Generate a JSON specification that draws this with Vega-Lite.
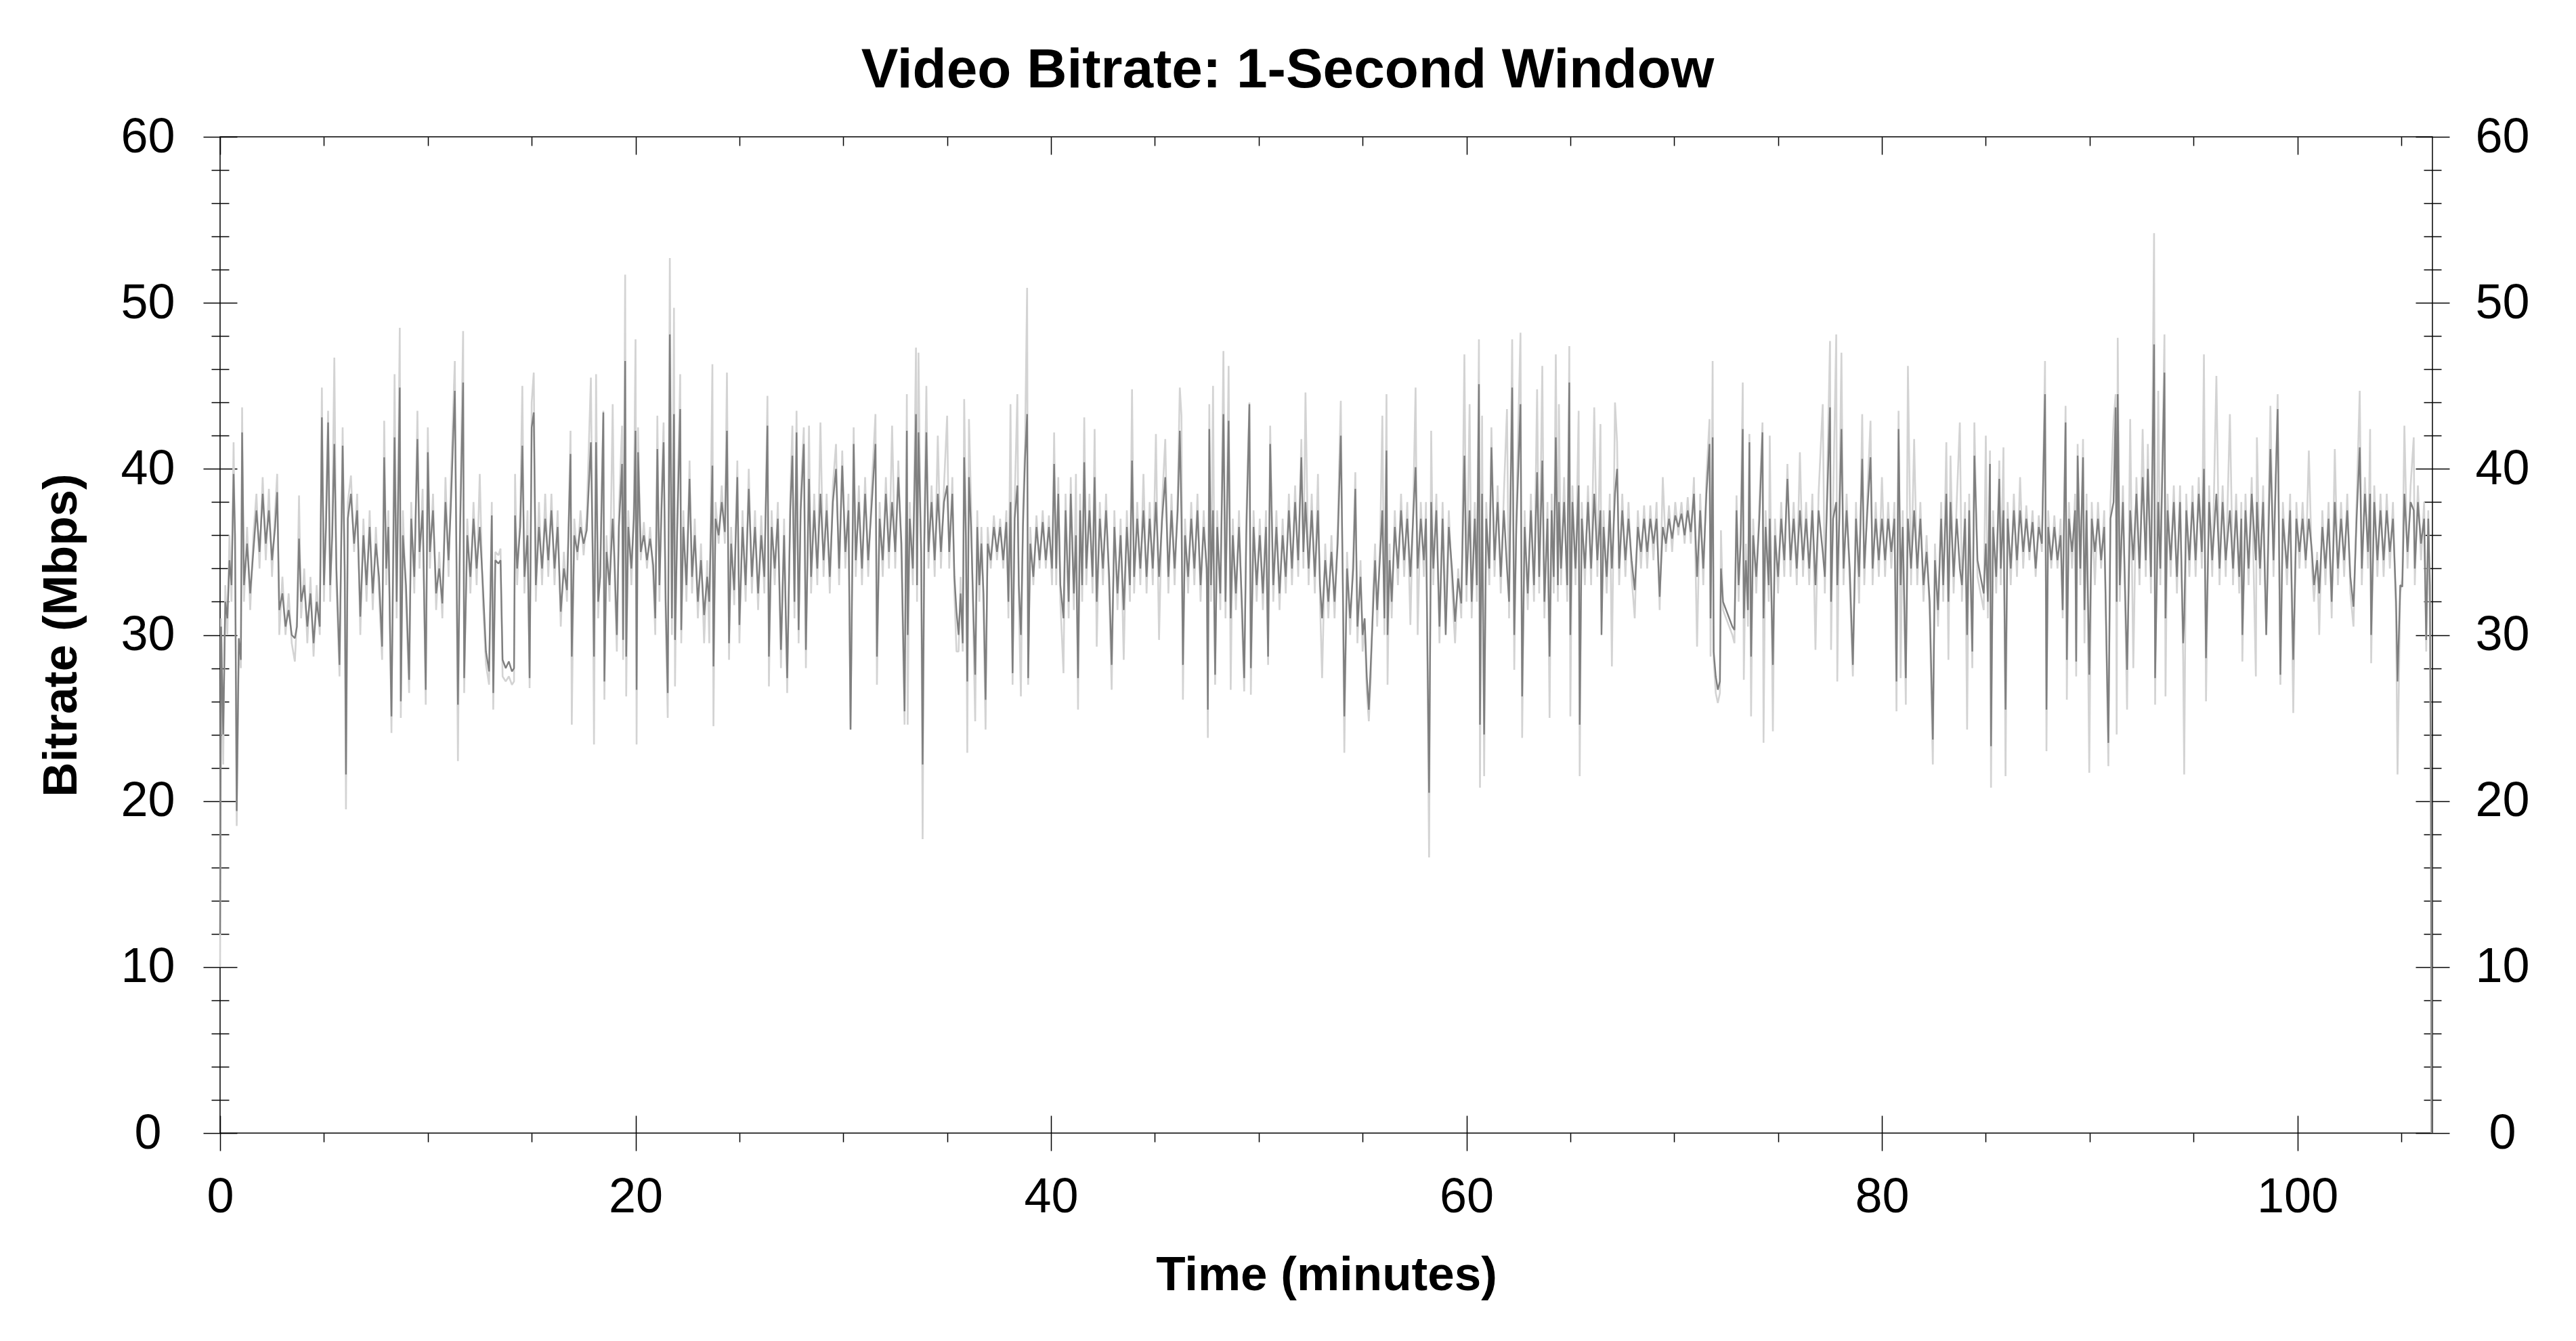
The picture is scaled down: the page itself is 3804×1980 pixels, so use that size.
{
"$schema": "https://vega.github.io/schema/vega-lite/v6.json",
"width": 3267,
"height": 1471,
"autosize": {"type": "none"},
"padding": {"left": 325, "top": 202, "right": 212, "bottom": 307},
"background": "white",
"title": {"text": "Video Bitrate: 1-Second Window", "fontSize": 82, "fontWeight": "bold", "font": "Liberation Sans", "color": "black", "anchor": "middle", "offset": 20, "dx": -57},
"config": {
  "font": "Liberation Sans",
  "view": {"stroke": "black", "strokeWidth": 1.5},
  "axis": {"domain": false, "grid": false, "tickColor": "black", "tickWidth": 1.5, "labelColor": "black", "titleColor": "black", "labelFlush": false, "labelFontSize": 72, "titleFontSize": 71, "titleFontWeight": "bold", "labelFont": "Liberation Sans", "titleFont": "Liberation Sans", "labelOverlap": false}
},
"resolve": {"axis": {"x": "independent", "y": "independent"}},
"data": {"values": [
{"t":0,"d":12,"l":10},{"t":0.05,"d":30.5,"l":31},{"t":0.15,"d":24,"l":22.2},{"t":0.25,"d":32,"l":33},{"t":0.35,"d":31,"l":30},{"t":0.45,"d":34.5,"l":36},{"t":0.55,"d":33,"l":32},{"t":0.65,"d":39.7,"l":41.6},{"t":0.72,"d":36,"l":35},{"t":0.8,"d":19.4,"l":18.5},{"t":0.9,"d":29.8,"l":29},{"t":1.0,"d":28.5,"l":28},{"t":1.06,"d":42.2,"l":43.7},{"t":1.15,"d":33,"l":32},{"t":1.3,"d":35.5,"l":36.5},{"t":1.45,"d":32.5,"l":31.5},{"t":1.6,"d":35,"l":36},{"t":1.75,"d":37.5,"l":38.5},{"t":1.9,"d":35,"l":34},{"t":2.05,"d":38.5,"l":39.5},{"t":2.2,"d":35.5,"l":34.5},{"t":2.35,"d":37.5,"l":38.8},{"t":2.5,"d":34.5,"l":33.5},{"t":2.65,"d":36.5,"l":37.5},{"t":2.75,"d":38.6,"l":39.7},{"t":2.85,"d":31.5,"l":30},{"t":3.0,"d":32.5,"l":33.5},{"t":3.15,"d":30.5,"l":30},{"t":3.3,"d":31.5,"l":32.5},{"t":3.45,"d":30,"l":29.5},{"t":3.6,"d":29.8,"l":28.4},{"t":3.7,"d":30.5,"l":31},{"t":3.8,"d":35.8,"l":38.4},{"t":3.9,"d":32,"l":31},{"t":4.05,"d":33,"l":34},{"t":4.2,"d":30.5,"l":29.5},{"t":4.35,"d":32.5,"l":33.5},{"t":4.5,"d":29.5,"l":28.7},{"t":4.65,"d":32,"l":33},{"t":4.8,"d":30.5,"l":30},{"t":4.9,"d":43.1,"l":44.9},{"t":5.0,"d":33,"l":32},{"t":5.1,"d":36.5,"l":37.5},{"t":5.2,"d":42.8,"l":43.5},{"t":5.3,"d":33,"l":32},{"t":5.4,"d":36,"l":37},{"t":5.5,"d":41.5,"l":46.7},{"t":5.6,"d":34,"l":33},{"t":5.75,"d":28.2,"l":27.5},{"t":5.9,"d":41.4,"l":42.5},{"t":6.0,"d":34,"l":33},{"t":6.06,"d":21.6,"l":19.5},{"t":6.15,"d":37,"l":38},{"t":6.3,"d":38.5,"l":39.6},{"t":6.45,"d":35.5,"l":35},{"t":6.6,"d":37.5,"l":38.5},{"t":6.75,"d":31.1,"l":30},{"t":6.9,"d":36,"l":37},{"t":7.05,"d":33,"l":32},{"t":7.2,"d":36.5,"l":37.5},{"t":7.35,"d":32.5,"l":31.5},{"t":7.5,"d":35.5,"l":36.5},{"t":7.65,"d":33.5,"l":32.5},{"t":7.8,"d":29.3,"l":28.5},{"t":7.9,"d":40.7,"l":42.9},{"t":8.0,"d":34,"l":33},{"t":8.1,"d":36.5,"l":37.5},{"t":8.25,"d":25.1,"l":24.1},{"t":8.4,"d":41.9,"l":45.7},{"t":8.5,"d":32,"l":31},{"t":8.65,"d":44.9,"l":48.5},{"t":8.7,"d":26,"l":25},{"t":8.8,"d":36,"l":37.5},{"t":8.95,"d":33,"l":32},{"t":9.1,"d":27.3,"l":26.5},{"t":9.2,"d":37,"l":38},{"t":9.35,"d":33.5,"l":32.5},{"t":9.5,"d":41.8,"l":43.5},{"t":9.6,"d":35,"l":34},{"t":9.75,"d":37.5,"l":38.8},{"t":9.9,"d":26.7,"l":25.8},{"t":10.0,"d":41,"l":42.5},{"t":10.1,"d":35,"l":34},{"t":10.25,"d":37.5,"l":38.5},{"t":10.4,"d":32.5,"l":31.5},{"t":10.55,"d":34,"l":35},{"t":10.7,"d":31.9,"l":31},{"t":10.85,"d":38,"l":39.5},{"t":11.0,"d":34.5,"l":33.5},{"t":11.1,"d":37.5,"l":39},{"t":11.3,"d":44.7,"l":46.5},{"t":11.45,"d":25.8,"l":22.4},{"t":11.55,"d":36,"l":37},{"t":11.7,"d":45.2,"l":48.3},{"t":11.75,"d":27.4,"l":26.5},{"t":11.9,"d":36,"l":37},{"t":12.05,"d":33.5,"l":32.5},{"t":12.2,"d":37,"l":38},{"t":12.35,"d":34,"l":33},{"t":12.5,"d":36.5,"l":39.7},{"t":12.65,"d":33,"l":32},{"t":12.8,"d":29,"l":28.2},{"t":12.95,"d":27.8,"l":27},{"t":13.08,"d":37.2,"l":38},{"t":13.15,"d":26.5,"l":25.5},{"t":13.25,"d":34.5,"l":35},{"t":13.4,"d":34.3,"l":34.8},{"t":13.5,"d":34.5,"l":35.2},{"t":13.6,"d":28.5,"l":27.5},{"t":13.75,"d":28,"l":27.2},{"t":13.9,"d":28.4,"l":27.5},{"t":14.05,"d":27.8,"l":27},{"t":14.15,"d":28,"l":27.2},{"t":14.2,"d":37.2,"l":39.7},{"t":14.3,"d":34,"l":33},{"t":14.45,"d":36.5,"l":37.5},{"t":14.55,"d":41.4,"l":45},{"t":14.65,"d":33.5,"l":32.5},{"t":14.8,"d":36,"l":37.5},{"t":14.9,"d":27.4,"l":26.8},{"t":15.0,"d":42.5,"l":44},{"t":15.1,"d":43.4,"l":45.8},{"t":15.2,"d":33,"l":32},{"t":15.35,"d":36.5,"l":38},{"t":15.5,"d":34,"l":33},{"t":15.65,"d":37,"l":38.5},{"t":15.8,"d":34.5,"l":33.5},{"t":15.95,"d":37.5,"l":38.5},{"t":16.1,"d":34,"l":33},{"t":16.25,"d":36.5,"l":37.5},{"t":16.4,"d":31.4,"l":30.5},{"t":16.55,"d":34,"l":35},{"t":16.7,"d":32.7,"l":32},{"t":16.87,"d":40.9,"l":42.3},{"t":16.93,"d":28.7,"l":24.6},{"t":17.05,"d":36,"l":37},{"t":17.2,"d":35,"l":34.5},{"t":17.35,"d":36.5,"l":37.5},{"t":17.5,"d":35.5,"l":34.8},{"t":17.65,"d":36.3,"l":37.2},{"t":17.85,"d":41.6,"l":45.5},{"t":17.95,"d":34,"l":33},{"t":18.0,"d":28.7,"l":23.4},{"t":18.1,"d":41.6,"l":45.7},{"t":18.2,"d":32,"l":31},{"t":18.3,"d":33.5,"l":34.5},{"t":18.45,"d":43.4,"l":43.5},{"t":18.5,"d":27.2,"l":26.1},{"t":18.6,"d":35,"l":36},{"t":18.75,"d":33,"l":32},{"t":18.9,"d":37,"l":43.9},{"t":19.0,"d":34,"l":33},{"t":19.1,"d":30,"l":29},{"t":19.2,"d":36.5,"l":37.5},{"t":19.35,"d":40.3,"l":42.6},{"t":19.4,"d":29.7,"l":28.5},{"t":19.5,"d":46.5,"l":51.7},{"t":19.55,"d":28.7,"l":26.3},{"t":19.65,"d":36.5,"l":37.5},{"t":19.8,"d":34,"l":33},{"t":19.92,"d":37,"l":38},{"t":20.0,"d":42.3,"l":47.8},{"t":20.05,"d":26.7,"l":23.4},{"t":20.12,"d":41,"l":42.5},{"t":20.25,"d":35,"l":34.5},{"t":20.4,"d":36,"l":36.8},{"t":20.55,"d":34.5,"l":34},{"t":20.7,"d":35.8,"l":36.5},{"t":20.85,"d":34.2,"l":33.5},{"t":20.95,"d":31,"l":30},{"t":21.05,"d":41.2,"l":43.2},{"t":21.15,"d":33,"l":32},{"t":21.25,"d":37.5,"l":38.5},{"t":21.35,"d":41.6,"l":42.8},{"t":21.45,"d":32,"l":31},{"t":21.55,"d":26.5,"l":25},{"t":21.65,"d":48.1,"l":52.7},{"t":21.75,"d":31,"l":30},{"t":21.85,"d":43.3,"l":49.7},{"t":21.9,"d":29.7,"l":26.9},{"t":22.0,"d":36,"l":37},{"t":22.15,"d":43.6,"l":45.7},{"t":22.2,"d":30.3,"l":29.5},{"t":22.3,"d":36.5,"l":37.5},{"t":22.45,"d":33,"l":32},{"t":22.6,"d":39.4,"l":40.5},{"t":22.72,"d":33.5,"l":32.5},{"t":22.85,"d":36,"l":37},{"t":23.0,"d":32,"l":31},{"t":23.15,"d":34.5,"l":35.5},{"t":23.3,"d":31.2,"l":29.5},{"t":23.45,"d":33.5,"l":34.5},{"t":23.55,"d":32,"l":29.5},{"t":23.7,"d":40.2,"l":46.3},{"t":23.75,"d":28.1,"l":24.5},{"t":23.85,"d":37,"l":38},{"t":24.0,"d":36,"l":35.5},{"t":24.15,"d":38,"l":39},{"t":24.3,"d":36.2,"l":35.5},{"t":24.4,"d":42.3,"l":45.8},{"t":24.5,"d":29.5,"l":28.5},{"t":24.6,"d":35.5,"l":36.5},{"t":24.75,"d":32.7,"l":31.8},{"t":24.9,"d":39.5,"l":40.5},{"t":25.0,"d":30.6,"l":29.5},{"t":25.15,"d":36.5,"l":37.5},{"t":25.3,"d":33,"l":32},{"t":25.45,"d":38.8,"l":40},{"t":25.6,"d":33.5,"l":32.5},{"t":25.75,"d":36.5,"l":37.5},{"t":25.9,"d":32.5,"l":31.5},{"t":26.05,"d":36,"l":37.2},{"t":26.2,"d":33.5,"l":32.5},{"t":26.35,"d":42.6,"l":44.4},{"t":26.42,"d":28.7,"l":26.9},{"t":26.55,"d":36.5,"l":37.5},{"t":26.7,"d":34,"l":33},{"t":26.85,"d":37,"l":38},{"t":27.0,"d":29.1,"l":28},{"t":27.15,"d":36,"l":37},{"t":27.3,"d":27.4,"l":26.5},{"t":27.45,"d":37.5,"l":38.5},{"t":27.55,"d":40.8,"l":42.6},{"t":27.65,"d":32,"l":31},{"t":27.75,"d":42.2,"l":43.5},{"t":27.85,"d":30.3,"l":29.5},{"t":27.95,"d":37.5,"l":38.5},{"t":28.1,"d":41.5,"l":42.5},{"t":28.2,"d":29.1,"l":28},{"t":28.35,"d":39.4,"l":42.6},{"t":28.45,"d":33.5,"l":32.5},{"t":28.6,"d":37.5,"l":38.5},{"t":28.75,"d":34,"l":33},{"t":28.9,"d":38.5,"l":42.8},{"t":29.05,"d":34.5,"l":33.5},{"t":29.2,"d":37.5,"l":38.5},{"t":29.35,"d":33.5,"l":32.5},{"t":29.5,"d":38,"l":39},{"t":29.65,"d":40,"l":41.5},{"t":29.8,"d":34,"l":33},{"t":29.95,"d":40.2,"l":41.1},{"t":30.1,"d":35,"l":34},{"t":30.25,"d":37.5,"l":38.5},{"t":30.35,"d":24.3,"l":24.3},{"t":30.5,"d":41.5,"l":42.5},{"t":30.6,"d":34.5,"l":33.5},{"t":30.75,"d":38,"l":39},{"t":30.9,"d":34,"l":33},{"t":31.05,"d":38.5,"l":39.5},{"t":31.2,"d":34.5,"l":33.5},{"t":31.35,"d":37.5,"l":38.5},{"t":31.55,"d":41.5,"l":43.3},{"t":31.62,"d":28.7,"l":27},{"t":31.75,"d":37,"l":38},{"t":31.9,"d":34.5,"l":33.5},{"t":32.05,"d":38.5,"l":39.5},{"t":32.2,"d":35,"l":34},{"t":32.35,"d":38,"l":42.6},{"t":32.5,"d":35,"l":34},{"t":32.65,"d":39.5,"l":40.5},{"t":32.8,"d":35.5,"l":34.5},{"t":32.95,"d":25.4,"l":24.6},{"t":33.06,"d":42.3,"l":44.5},{"t":33.1,"d":30,"l":24.6},{"t":33.2,"d":37,"l":38},{"t":33.35,"d":34,"l":33},{"t":33.5,"d":43.3,"l":47.3},{"t":33.55,"d":33,"l":32},{"t":33.62,"d":42.2,"l":47},{"t":33.75,"d":35,"l":34},{"t":33.82,"d":22.2,"l":17.7},{"t":33.9,"d":35.5,"l":36.5},{"t":34.0,"d":42.2,"l":45},{"t":34.1,"d":35,"l":34},{"t":34.25,"d":38,"l":39},{"t":34.4,"d":34.5,"l":33.5},{"t":34.55,"d":38.5,"l":42},{"t":34.7,"d":35,"l":34},{"t":34.85,"d":38,"l":39},{"t":35.0,"d":39,"l":43.2},{"t":35.1,"d":35,"l":34},{"t":35.25,"d":38.5,"l":39.5},{"t":35.35,"d":33.5,"l":32.5},{"t":35.45,"d":31.4,"l":29},{"t":35.55,"d":30,"l":29},{"t":35.65,"d":32.5,"l":33.5},{"t":35.75,"d":29.5,"l":29},{"t":35.82,"d":40.7,"l":44.2},{"t":35.9,"d":36,"l":37},{"t":35.97,"d":27.2,"l":22.9},{"t":36.05,"d":39.5,"l":43},{"t":36.15,"d":36.5,"l":38},{"t":36.25,"d":32,"l":31},{"t":36.35,"d":27.6,"l":24.8},{"t":36.45,"d":36.5,"l":37.5},{"t":36.55,"d":33,"l":32},{"t":36.65,"d":35.5,"l":36.5},{"t":36.75,"d":32.5,"l":31.5},{"t":36.85,"d":26.1,"l":24.3},{"t":36.95,"d":35.5,"l":36.5},{"t":37.1,"d":34.5,"l":34},{"t":37.25,"d":36.5,"l":37.2},{"t":37.4,"d":35,"l":34.5},{"t":37.55,"d":36.5,"l":37},{"t":37.7,"d":34.5,"l":34},{"t":37.85,"d":36.8,"l":37.5},{"t":37.95,"d":32,"l":31},{"t":38.05,"d":38,"l":43.9},{"t":38.15,"d":27.7,"l":27},{"t":38.25,"d":37,"l":38},{"t":38.38,"d":39,"l":44.5},{"t":38.45,"d":33,"l":32},{"t":38.55,"d":30,"l":26.3},{"t":38.65,"d":36.5,"l":37.5},{"t":38.75,"d":40.6,"l":41.5},{"t":38.85,"d":43.3,"l":50.9},{"t":38.9,"d":27.4,"l":27},{"t":39.0,"d":35.5,"l":36.5},{"t":39.15,"d":33.5,"l":33},{"t":39.3,"d":36.5,"l":37.2},{"t":39.45,"d":34.5,"l":34},{"t":39.6,"d":36.8,"l":37.5},{"t":39.75,"d":34.5,"l":34},{"t":39.9,"d":36.5,"l":37.2},{"t":40.05,"d":34,"l":33},{"t":40.15,"d":40.3,"l":42.2},{"t":40.25,"d":34,"l":33},{"t":40.35,"d":38.5,"l":39.5},{"t":40.45,"d":33,"l":32},{"t":40.6,"d":31,"l":27.7},{"t":40.7,"d":37.5,"l":38.5},{"t":40.85,"d":32,"l":31},{"t":40.95,"d":38.5,"l":39.5},{"t":41.1,"d":32.5,"l":31.5},{"t":41.2,"d":36,"l":39.7},{"t":41.3,"d":27.4,"l":25.5},{"t":41.4,"d":37.5,"l":38.5},{"t":41.5,"d":33,"l":32},{"t":41.6,"d":40.4,"l":43.1},{"t":41.7,"d":34,"l":33},{"t":41.85,"d":37.5,"l":38.5},{"t":42.0,"d":33.5,"l":32.5},{"t":42.1,"d":39.5,"l":42.4},{"t":42.2,"d":32,"l":29.3},{"t":42.35,"d":37,"l":38},{"t":42.5,"d":34,"l":33},{"t":42.65,"d":37.5,"l":38.5},{"t":42.8,"d":33.5,"l":32.5},{"t":42.92,"d":28.2,"l":26.7},{"t":43.05,"d":36.5,"l":37.5},{"t":43.2,"d":32.5,"l":31.5},{"t":43.35,"d":36,"l":37},{"t":43.5,"d":31.5,"l":28.5},{"t":43.65,"d":36.5,"l":37.5},{"t":43.8,"d":33,"l":32},{"t":43.9,"d":40.5,"l":44.8},{"t":44.0,"d":33.5,"l":32.5},{"t":44.15,"d":37,"l":38},{"t":44.3,"d":34,"l":33},{"t":44.45,"d":37.5,"l":39.7},{"t":44.6,"d":33.5,"l":32.5},{"t":44.75,"d":37,"l":38},{"t":44.9,"d":34,"l":33},{"t":45.05,"d":38,"l":42.1},{"t":45.2,"d":33.5,"l":29.7},{"t":45.35,"d":37,"l":38},{"t":45.5,"d":39.5,"l":41.8},{"t":45.65,"d":33.5,"l":32.5},{"t":45.8,"d":37.5,"l":38.5},{"t":45.95,"d":34,"l":33},{"t":46.1,"d":37.5,"l":38.5},{"t":46.2,"d":42.3,"l":44.9},{"t":46.28,"d":37,"l":43.2},{"t":46.35,"d":28.2,"l":26.1},{"t":46.45,"d":36,"l":37},{"t":46.6,"d":33.5,"l":32.5},{"t":46.75,"d":37,"l":38},{"t":46.9,"d":34,"l":33},{"t":47.05,"d":37.5,"l":38.5},{"t":47.2,"d":33,"l":32},{"t":47.35,"d":36.5,"l":37.5},{"t":47.5,"d":34,"l":33},{"t":47.55,"d":25.5,"l":23.8},{"t":47.62,"d":42.4,"l":43.9},{"t":47.7,"d":33,"l":32},{"t":47.8,"d":37.5,"l":45},{"t":47.9,"d":27.6,"l":27},{"t":48.0,"d":36.5,"l":37.5},{"t":48.15,"d":32.5,"l":31.5},{"t":48.3,"d":43.3,"l":47.1},{"t":48.4,"d":32,"l":31},{"t":48.55,"d":42.9,"l":46.2},{"t":48.65,"d":31,"l":26.7},{"t":48.75,"d":36,"l":37},{"t":48.9,"d":32.5,"l":31.5},{"t":49.05,"d":36.5,"l":37.5},{"t":49.2,"d":31.5,"l":30.5},{"t":49.3,"d":27.4,"l":26.6},{"t":49.4,"d":36,"l":37},{"t":49.55,"d":43.9,"l":44},{"t":49.62,"d":28,"l":26.4},{"t":49.75,"d":36.5,"l":37.5},{"t":49.9,"d":33,"l":32},{"t":50.05,"d":36,"l":37},{"t":50.2,"d":32.5,"l":31.5},{"t":50.35,"d":36.5,"l":37.5},{"t":50.45,"d":28.7,"l":28.2},{"t":50.55,"d":41.5,"l":42.6},{"t":50.7,"d":33,"l":32},{"t":50.85,"d":36.5,"l":37.5},{"t":51.0,"d":32.5,"l":31.5},{"t":51.15,"d":36,"l":37},{"t":51.3,"d":33.5,"l":32.5},{"t":51.45,"d":37.5,"l":38.5},{"t":51.6,"d":34,"l":33},{"t":51.75,"d":38,"l":39},{"t":51.9,"d":34.5,"l":33.5},{"t":52.05,"d":40.7,"l":41.8},{"t":52.15,"d":35,"l":34},{"t":52.25,"d":38,"l":44.6},{"t":52.4,"d":34,"l":33},{"t":52.55,"d":37.5,"l":38.5},{"t":52.7,"d":33.5,"l":32.5},{"t":52.85,"d":37.5,"l":39.7},{"t":52.95,"d":33,"l":32},{"t":53.05,"d":31,"l":27.4},{"t":53.2,"d":34.5,"l":35.5},{"t":53.35,"d":32,"l":31},{"t":53.5,"d":35,"l":36},{"t":53.65,"d":32,"l":31},{"t":53.8,"d":35.5,"l":36.5},{"t":53.95,"d":42,"l":44.1},{"t":54.05,"d":33,"l":32},{"t":54.12,"d":25.1,"l":22.9},{"t":54.25,"d":34,"l":35},{"t":54.4,"d":31,"l":30},{"t":54.55,"d":34,"l":35},{"t":54.65,"d":38.8,"l":39.8},{"t":54.75,"d":30.5,"l":29.5},{"t":54.9,"d":33.5,"l":34.5},{"t":55.0,"d":30,"l":29},{"t":55.1,"d":31,"l":30.5},{"t":55.2,"d":27.5,"l":26.5},{"t":55.3,"d":25.5,"l":24.8},{"t":55.4,"d":28.5,"l":27.5},{"t":55.5,"d":31.5,"l":32.5},{"t":55.6,"d":34.5,"l":35.5},{"t":55.7,"d":31.5,"l":30.5},{"t":55.85,"d":35,"l":36},{"t":55.95,"d":37.5,"l":43.2},{"t":56.05,"d":31,"l":30},{"t":56.15,"d":41.1,"l":44.5},{"t":56.2,"d":30,"l":27},{"t":56.3,"d":34.5,"l":35.5},{"t":56.4,"d":32,"l":31},{"t":56.55,"d":36.5,"l":37.5},{"t":56.7,"d":34,"l":33},{"t":56.85,"d":37.5,"l":38.5},{"t":57.0,"d":34.5,"l":33.5},{"t":57.15,"d":37,"l":38},{"t":57.3,"d":33.5,"l":30.6},{"t":57.45,"d":37.5,"l":38.5},{"t":57.55,"d":40.1,"l":44.9},{"t":57.65,"d":34,"l":30},{"t":57.8,"d":37,"l":38},{"t":57.95,"d":34.5,"l":33.5},{"t":58.05,"d":37,"l":38},{"t":58.2,"d":20.5,"l":16.6},{"t":58.3,"d":38,"l":42.3},{"t":58.4,"d":34,"l":33},{"t":58.55,"d":37.5,"l":38.5},{"t":58.7,"d":30.5,"l":29.5},{"t":58.85,"d":37,"l":38},{"t":59.0,"d":30,"l":31},{"t":59.15,"d":36.5,"l":37.5},{"t":59.3,"d":34,"l":33},{"t":59.45,"d":30.8,"l":29.5},{"t":59.6,"d":33.4,"l":34},{"t":59.75,"d":31.9,"l":31},{"t":59.9,"d":40.8,"l":46.9},{"t":60.0,"d":33,"l":32},{"t":60.15,"d":37.5,"l":43.9},{"t":60.25,"d":32,"l":31},{"t":60.4,"d":37,"l":38},{"t":60.5,"d":33,"l":32},{"t":60.6,"d":45.1,"l":47.8},{"t":60.65,"d":24.6,"l":20.8},{"t":60.75,"d":38.5,"l":43.2},{"t":60.85,"d":24,"l":21.5},{"t":60.95,"d":37,"l":38},{"t":61.1,"d":34,"l":33},{"t":61.2,"d":41.3,"l":42.5},{"t":61.35,"d":34.5,"l":33.5},{"t":61.5,"d":38,"l":39},{"t":61.65,"d":33.5,"l":32.5},{"t":61.8,"d":37.5,"l":38.5},{"t":61.95,"d":34,"l":43.6},{"t":62.05,"d":32,"l":31},{"t":62.2,"d":44.9,"l":47.8},{"t":62.3,"d":30,"l":27.9},{"t":62.4,"d":36.5,"l":37.5},{"t":62.6,"d":43.9,"l":48.2},{"t":62.68,"d":26.3,"l":23.8},{"t":62.8,"d":36.5,"l":37.5},{"t":62.95,"d":32.5,"l":31.5},{"t":63.1,"d":37.5,"l":38.5},{"t":63.25,"d":33,"l":32},{"t":63.4,"d":39.8,"l":44.8},{"t":63.5,"d":33.5,"l":32.5},{"t":63.65,"d":40.5,"l":46.2},{"t":63.75,"d":32,"l":31},{"t":63.9,"d":37,"l":38},{"t":64.0,"d":28.7,"l":25},{"t":64.1,"d":37.5,"l":38.5},{"t":64.2,"d":33.5,"l":32.5},{"t":64.3,"d":41.9,"l":46.9},{"t":64.4,"d":33,"l":32},{"t":64.45,"d":38,"l":43.9},{"t":64.55,"d":34,"l":33},{"t":64.7,"d":38,"l":39.5},{"t":64.85,"d":33,"l":32},{"t":64.95,"d":45.2,"l":47.4},{"t":65.0,"d":30,"l":25.1},{"t":65.1,"d":38,"l":39},{"t":65.25,"d":34,"l":33},{"t":65.4,"d":39,"l":43.5},{"t":65.45,"d":24.6,"l":21.5},{"t":65.55,"d":37,"l":38},{"t":65.7,"d":34,"l":33},{"t":65.85,"d":38,"l":39},{"t":66.0,"d":34,"l":33},{"t":66.15,"d":38.5,"l":43.7},{"t":66.3,"d":34.5,"l":33.5},{"t":66.45,"d":37.5,"l":42.7},{"t":66.5,"d":30,"l":31.4},{"t":66.6,"d":36.5,"l":37.5},{"t":66.75,"d":33.5,"l":32.5},{"t":66.9,"d":37.5,"l":38.5},{"t":67.0,"d":34,"l":28.1},{"t":67.15,"d":38.5,"l":44},{"t":67.25,"d":40,"l":41.6},{"t":67.35,"d":34,"l":33},{"t":67.5,"d":37.5,"l":38.5},{"t":67.65,"d":34.5,"l":33.5},{"t":67.8,"d":37,"l":38},{"t":67.95,"d":34.5,"l":33.5},{"t":68.1,"d":32.7,"l":31},{"t":68.25,"d":36.5,"l":37.5},{"t":68.4,"d":35,"l":34},{"t":68.55,"d":37,"l":37.8},{"t":68.7,"d":35,"l":34},{"t":68.85,"d":37,"l":37.8},{"t":69.0,"d":35.5,"l":34.5},{"t":69.15,"d":37,"l":38},{"t":69.3,"d":32.3,"l":31.5},{"t":69.45,"d":36.5,"l":39.5},{"t":69.6,"d":35.5,"l":35},{"t":69.75,"d":37,"l":37.8},{"t":69.9,"d":35.8,"l":35},{"t":70.05,"d":37.2,"l":38},{"t":70.2,"d":36.5,"l":36},{"t":70.35,"d":37.3,"l":38},{"t":70.5,"d":36,"l":35.5},{"t":70.65,"d":37.5,"l":38.3},{"t":70.8,"d":36.2,"l":35.5},{"t":70.95,"d":38.5,"l":39.5},{"t":71.1,"d":33.5,"l":29.3},{"t":71.25,"d":37.5,"l":38.5},{"t":71.4,"d":34,"l":33},{"t":71.55,"d":38.5,"l":39.5},{"t":71.7,"d":41.5,"l":43},{"t":71.75,"d":31,"l":28.7},{"t":71.85,"d":41.9,"l":46.5},{"t":71.9,"d":29,"l":28.5},{"t":72.0,"d":27.5,"l":26.5},{"t":72.1,"d":26.7,"l":25.9},{"t":72.2,"d":27.2,"l":26.5},{"t":72.25,"d":34,"l":36.3},{"t":72.35,"d":32,"l":31.5},{"t":72.5,"d":31.5,"l":31},{"t":72.65,"d":31,"l":30.5},{"t":72.8,"d":30.5,"l":30},{"t":72.9,"d":30.3,"l":29.5},{"t":73.0,"d":37.5,"l":38.4},{"t":73.1,"d":33,"l":32},{"t":73.2,"d":35.5,"l":36.5},{"t":73.3,"d":42.4,"l":45.2},{"t":73.35,"d":31,"l":27.3},{"t":73.45,"d":34.5,"l":35.5},{"t":73.55,"d":31.5,"l":30.5},{"t":73.62,"d":41.6,"l":42.1},{"t":73.7,"d":28.7,"l":25.1},{"t":73.8,"d":36,"l":37},{"t":73.95,"d":33.5,"l":32.5},{"t":74.1,"d":37,"l":38},{"t":74.25,"d":42.2,"l":42.8},{"t":74.3,"d":31,"l":23.5},{"t":74.4,"d":36.5,"l":37.5},{"t":74.55,"d":33,"l":32},{"t":74.6,"d":37,"l":42},{"t":74.75,"d":28.2,"l":24.2},{"t":74.85,"d":36,"l":37},{"t":75.0,"d":33.5,"l":32.5},{"t":75.15,"d":37,"l":38},{"t":75.3,"d":34.5,"l":33.5},{"t":75.45,"d":39.4,"l":40.3},{"t":75.6,"d":34.5,"l":33.5},{"t":75.75,"d":37,"l":38},{"t":75.9,"d":34,"l":33},{"t":76.05,"d":37.5,"l":41},{"t":76.2,"d":34.5,"l":33.5},{"t":76.35,"d":37,"l":38},{"t":76.5,"d":34,"l":33},{"t":76.65,"d":37.5,"l":38.5},{"t":76.8,"d":33,"l":29.1},{"t":76.95,"d":37.5,"l":38.5},{"t":77.15,"d":35,"l":43.9},{"t":77.25,"d":33.5,"l":32.5},{"t":77.5,"d":43.7,"l":47.7},{"t":77.55,"d":32,"l":29.1},{"t":77.65,"d":37,"l":38},{"t":77.8,"d":38,"l":48.1},{"t":77.85,"d":33,"l":27.2},{"t":77.95,"d":37,"l":38},{"t":78.05,"d":42.4,"l":47},{"t":78.15,"d":34,"l":33},{"t":78.3,"d":37.5,"l":38.5},{"t":78.45,"d":34,"l":33},{"t":78.6,"d":28.2,"l":27.5},{"t":78.75,"d":37,"l":38},{"t":78.9,"d":33.5,"l":31.9},{"t":79.05,"d":40.6,"l":43.3},{"t":79.15,"d":34,"l":33},{"t":79.3,"d":37.5,"l":38.5},{"t":79.45,"d":40.7,"l":42.9},{"t":79.55,"d":34,"l":33},{"t":79.7,"d":37,"l":38},{"t":79.85,"d":34.5,"l":33.5},{"t":80.0,"d":37,"l":39.5},{"t":80.15,"d":34.5,"l":33.5},{"t":80.3,"d":37,"l":38},{"t":80.45,"d":35,"l":34},{"t":80.6,"d":37,"l":38},{"t":80.7,"d":27.2,"l":25.4},{"t":80.8,"d":42.4,"l":43.5},{"t":80.9,"d":33,"l":27.4},{"t":81.0,"d":36.5,"l":37.5},{"t":81.15,"d":27.4,"l":25.8},{"t":81.25,"d":37,"l":46.2},{"t":81.4,"d":34,"l":33},{"t":81.55,"d":37.5,"l":41.8},{"t":81.7,"d":34,"l":33},{"t":81.85,"d":37,"l":38},{"t":82.0,"d":33,"l":32},{"t":82.15,"d":35,"l":36},{"t":82.3,"d":32,"l":31},{"t":82.45,"d":23.7,"l":22.2},{"t":82.55,"d":34.5,"l":35.5},{"t":82.7,"d":31.5,"l":30.5},{"t":82.85,"d":37,"l":38},{"t":82.95,"d":33,"l":32},{"t":83.1,"d":38.5,"l":41.6},{"t":83.2,"d":32,"l":28.5},{"t":83.3,"d":38,"l":40.8},{"t":83.45,"d":33.5,"l":32.5},{"t":83.6,"d":37,"l":38},{"t":83.75,"d":34,"l":42.8},{"t":83.85,"d":33,"l":32},{"t":84.0,"d":37,"l":38},{"t":84.1,"d":30,"l":24.3},{"t":84.2,"d":37.5,"l":38.5},{"t":84.35,"d":29,"l":28},{"t":84.45,"d":40.8,"l":42.8},{"t":84.6,"d":34.5,"l":33.5},{"t":84.75,"d":33.5,"l":32.5},{"t":84.9,"d":32.5,"l":31.5},{"t":85.0,"d":35.5,"l":42},{"t":85.1,"d":32,"l":31},{"t":85.2,"d":40.3,"l":41.1},{"t":85.25,"d":23.3,"l":20.8},{"t":85.35,"d":36.5,"l":37.5},{"t":85.5,"d":33.5,"l":32.5},{"t":85.65,"d":39.4,"l":40.5},{"t":85.72,"d":34,"l":33},{"t":85.85,"d":37.5,"l":41.3},{"t":85.95,"d":25.5,"l":21.5},{"t":86.05,"d":37,"l":38},{"t":86.2,"d":34,"l":33},{"t":86.35,"d":37.5,"l":38.5},{"t":86.5,"d":34.5,"l":33.5},{"t":86.65,"d":37.5,"l":39.5},{"t":86.8,"d":35,"l":34},{"t":86.95,"d":37,"l":37.8},{"t":87.1,"d":35,"l":34.5},{"t":87.25,"d":36.8,"l":37.5},{"t":87.4,"d":34,"l":33.5},{"t":87.55,"d":36.5,"l":37.2},{"t":87.7,"d":35.5,"l":35},{"t":87.85,"d":44.5,"l":46.5},{"t":87.92,"d":25.5,"l":23},{"t":88.0,"d":36.5,"l":37.5},{"t":88.15,"d":34.5,"l":34},{"t":88.3,"d":36.5,"l":37.2},{"t":88.45,"d":34.5,"l":34},{"t":88.6,"d":36,"l":37},{"t":88.7,"d":31.5,"l":31},{"t":88.84,"d":42.8,"l":43.8},{"t":88.9,"d":28.5,"l":26.1},{"t":89.0,"d":37,"l":38},{"t":89.15,"d":35,"l":34},{"t":89.3,"d":37.5,"l":38.5},{"t":89.35,"d":28.4,"l":27.5},{"t":89.42,"d":40.8,"l":41.5},{"t":89.55,"d":34,"l":33},{"t":89.68,"d":40.7,"l":41.8},{"t":89.75,"d":31.5,"l":29.5},{"t":89.85,"d":37.5,"l":38.5},{"t":89.98,"d":27.6,"l":21.7},{"t":90.1,"d":37,"l":38},{"t":90.25,"d":35,"l":33},{"t":90.4,"d":37,"l":38},{"t":90.55,"d":34.5,"l":34},{"t":90.7,"d":36.5,"l":37.5},{"t":90.9,"d":23.5,"l":22.1},{"t":91.0,"d":37,"l":38},{"t":91.15,"d":38,"l":42.9},{"t":91.25,"d":43.7,"l":44.5},{"t":91.3,"d":32,"l":24},{"t":91.35,"d":44.5,"l":47.9},{"t":91.45,"d":33,"l":32},{"t":91.6,"d":38,"l":39},{"t":91.8,"d":27.9,"l":25.5},{"t":91.95,"d":37.5,"l":43},{"t":92.1,"d":34.5,"l":28},{"t":92.25,"d":38.5,"l":39.5},{"t":92.4,"d":34,"l":33},{"t":92.55,"d":39.5,"l":42.4},{"t":92.7,"d":34.5,"l":33.5},{"t":92.8,"d":40,"l":41.5},{"t":92.95,"d":33.5,"l":32.5},{"t":93.1,"d":47.5,"l":54.2},{"t":93.15,"d":27.4,"l":25.8},{"t":93.3,"d":38,"l":44.7},{"t":93.4,"d":34,"l":33},{"t":93.6,"d":45.8,"l":48.1},{"t":93.65,"d":31,"l":26.3},{"t":93.75,"d":37.5,"l":38.5},{"t":93.9,"d":34.5,"l":33.5},{"t":94.05,"d":38,"l":39},{"t":94.2,"d":33.5,"l":32.5},{"t":94.35,"d":38,"l":39},{"t":94.5,"d":29.5,"l":28.5},{"t":94.55,"d":31,"l":21.6},{"t":94.65,"d":37.5,"l":38.5},{"t":94.8,"d":34.5,"l":33.5},{"t":94.95,"d":38,"l":39},{"t":95.1,"d":34.5,"l":33.5},{"t":95.25,"d":38.5,"l":39.5},{"t":95.4,"d":35,"l":34},{"t":95.5,"d":40,"l":46.9},{"t":95.6,"d":28.6,"l":26},{"t":95.75,"d":38,"l":39},{"t":95.9,"d":34.5,"l":33.5},{"t":96.1,"d":38.5,"l":45.6},{"t":96.25,"d":34,"l":33},{"t":96.4,"d":38,"l":39},{"t":96.55,"d":34.5,"l":33.5},{"t":96.75,"d":37.5,"l":43.3},{"t":96.9,"d":34,"l":33},{"t":97.05,"d":37.5,"l":38.5},{"t":97.2,"d":33.5,"l":32.5},{"t":97.3,"d":37,"l":38},{"t":97.35,"d":30,"l":28.4},{"t":97.5,"d":37.5,"l":38.5},{"t":97.65,"d":34,"l":33},{"t":97.8,"d":38.5,"l":39.5},{"t":98.0,"d":34.5,"l":27.5},{"t":98.05,"d":38,"l":41.9},{"t":98.2,"d":34,"l":33},{"t":98.35,"d":38,"l":39},{"t":98.5,"d":30,"l":30},{"t":98.7,"d":41.2,"l":43.8},{"t":98.85,"d":34.5,"l":33.5},{"t":99.05,"d":43.6,"l":44.5},{"t":99.18,"d":27.6,"l":27},{"t":99.3,"d":37,"l":38},{"t":99.5,"d":34,"l":33},{"t":99.65,"d":37.5,"l":38.5},{"t":99.8,"d":28.5,"l":25.3},{"t":99.95,"d":37,"l":38},{"t":100.1,"d":35,"l":34},{"t":100.25,"d":37,"l":38},{"t":100.4,"d":34.5,"l":34},{"t":100.55,"d":37,"l":41.1},{"t":100.7,"d":35,"l":34},{"t":100.8,"d":33,"l":32},{"t":100.95,"d":34.5,"l":35},{"t":101.05,"d":32.5,"l":30},{"t":101.2,"d":36.5,"l":37.5},{"t":101.35,"d":34,"l":33},{"t":101.5,"d":37,"l":38},{"t":101.65,"d":32,"l":31},{"t":101.8,"d":38,"l":41.2},{"t":101.95,"d":34,"l":33},{"t":102.1,"d":37,"l":38},{"t":102.25,"d":34.5,"l":33.5},{"t":102.4,"d":37.5,"l":38.5},{"t":102.55,"d":33.5,"l":32.5},{"t":102.7,"d":31.7,"l":30.5},{"t":102.85,"d":37,"l":38},{"t":103.0,"d":41.3,"l":44.7},{"t":103.1,"d":34,"l":33},{"t":103.25,"d":38.5,"l":39.5},{"t":103.4,"d":35,"l":34},{"t":103.5,"d":38.5,"l":42.4},{"t":103.55,"d":30,"l":28.3},{"t":103.7,"d":38,"l":39},{"t":103.85,"d":34.5,"l":33.5},{"t":104.0,"d":37.5,"l":38.5},{"t":104.15,"d":34.5,"l":33.5},{"t":104.3,"d":37.5,"l":38.5},{"t":104.45,"d":35,"l":34},{"t":104.6,"d":37,"l":38},{"t":104.75,"d":32,"l":31},{"t":104.82,"d":27.2,"l":21.6},{"t":104.95,"d":33,"l":32.5},{"t":105.05,"d":32.9,"l":33.5},{"t":105.15,"d":38.5,"l":42.6},{"t":105.3,"d":35,"l":34},{"t":105.45,"d":38,"l":39},{"t":105.6,"d":37.5,"l":41.9},{"t":105.65,"d":34,"l":33},{"t":105.8,"d":38,"l":39},{"t":105.95,"d":35.5,"l":34.5},{"t":106.1,"d":37,"l":38},{"t":106.2,"d":29.7,"l":29},{"t":106.3,"d":37,"l":37.5},{"t":106.38,"d":33,"l":30},{"t":106.43,"d":18.7,"l":20},{"t":106.46,"d":0,"l":0}
]},
"layer": [
  {
    "mark": {"type": "line", "color": "#d3d3d3", "strokeWidth": 2.6, "strokeJoin": "bevel"},
    "encoding": {
      "x": {"field": "t", "type": "quantitative", "scale": {"domain": [0, 106.5], "nice": false, "zero": false},
            "axis": {"orient": "bottom", "values": [0, 20, 40, 60, 80, 100], "tickSize": 26, "labelPadding": 33, "title": "Time (minutes)", "titlePadding": 45}},
      "y": {"field": "l", "type": "quantitative", "scale": {"domain": [0, 60], "nice": false},
            "axis": {"orient": "left", "values": [0, 10, 20, 30, 40, 50, 60], "tickSize": 25, "labelPadding": 82, "labelAlign": "center", "labelBaseline": "middle", "title": "Bitrate (Mbps)", "titlePadding": 50}}
    }
  },
  {
    "mark": {"type": "line", "color": "#7f7f7f", "strokeWidth": 2.4, "strokeJoin": "bevel"},
    "encoding": {
      "x": {"field": "t", "type": "quantitative", "scale": {"domain": [0, 106.5], "nice": false, "zero": false},
            "axis": {"orient": "bottom", "values": [0, 20, 40, 60, 80, 100], "tickSize": -26, "labels": false, "title": null}},
      "y": {"field": "d", "type": "quantitative", "scale": {"domain": [0, 60], "nice": false},
            "axis": {"orient": "left", "values": [0, 10, 20, 30, 40, 50, 60], "tickSize": -25, "labels": false, "title": null}}
    }
  },
  {
    "data": {"values": [{"t": 0, "d": 30}]},
    "mark": {"type": "point", "opacity": 0},
    "encoding": {
      "x": {"field": "t", "type": "quantitative", "scale": {"domain": [0, 106.5], "nice": false, "zero": false},
            "axis": {"orient": "bottom", "values": [5, 10, 15, 25, 30, 35, 45, 50, 55, 65, 70, 75, 85, 90, 95, 105], "tickSize": 13, "labels": false, "title": null}},
      "y": {"field": "d", "type": "quantitative", "scale": {"domain": [0, 60], "nice": false},
            "axis": {"orient": "left", "values": [2, 4, 6, 8, 12, 14, 16, 18, 22, 24, 26, 28, 32, 34, 36, 38, 42, 44, 46, 48, 52, 54, 56, 58], "tickSize": 13, "labels": false, "title": null}}
    }
  },
  {
    "data": {"values": [{"t": 0, "d": 30}]},
    "mark": {"type": "point", "opacity": 0},
    "encoding": {
      "x": {"field": "t", "type": "quantitative", "scale": {"domain": [0, 106.5], "nice": false, "zero": false},
            "axis": {"orient": "top", "values": [0, 20, 40, 60, 80, 100], "tickSize": -26, "labels": false, "title": null}},
      "y": {"field": "d", "type": "quantitative", "scale": {"domain": [0, 60], "nice": false},
            "axis": {"orient": "left", "values": [2, 4, 6, 8, 12, 14, 16, 18, 22, 24, 26, 28, 32, 34, 36, 38, 42, 44, 46, 48, 52, 54, 56, 58], "tickSize": -13, "labels": false, "title": null}}
    }
  },
  {
    "data": {"values": [{"t": 0, "d": 30}]},
    "mark": {"type": "point", "opacity": 0},
    "encoding": {
      "x": {"field": "t", "type": "quantitative", "scale": {"domain": [0, 106.5], "nice": false, "zero": false},
            "axis": {"orient": "top", "values": [5, 10, 15, 25, 30, 35, 45, 50, 55, 65, 70, 75, 85, 90, 95, 105], "tickSize": -13, "labels": false, "title": null}},
      "y": {"field": "d", "type": "quantitative", "scale": {"domain": [0, 60], "nice": false},
            "axis": {"orient": "right", "values": [0, 10, 20, 30, 40, 50, 60], "tickSize": 25, "labelPadding": 78, "labelAlign": "center", "labelBaseline": "middle", "title": null}}
    }
  },
  {
    "data": {"values": [{"t": 0, "d": 30}]},
    "mark": {"type": "point", "opacity": 0},
    "encoding": {
      "x": {"field": "t", "type": "quantitative", "scale": {"domain": [0, 106.5], "nice": false, "zero": false}, "axis": null},
      "y": {"field": "d", "type": "quantitative", "scale": {"domain": [0, 60], "nice": false},
            "axis": {"orient": "right", "values": [0, 10, 20, 30, 40, 50, 60], "tickSize": -25, "labels": false, "title": null}}
    }
  },
  {
    "data": {"values": [{"t": 0, "d": 30}]},
    "mark": {"type": "point", "opacity": 0},
    "encoding": {
      "x": {"field": "t", "type": "quantitative", "scale": {"domain": [0, 106.5], "nice": false, "zero": false}, "axis": null},
      "y": {"field": "d", "type": "quantitative", "scale": {"domain": [0, 60], "nice": false},
            "axis": {"orient": "right", "values": [2, 4, 6, 8, 12, 14, 16, 18, 22, 24, 26, 28, 32, 34, 36, 38, 42, 44, 46, 48, 52, 54, 56, 58], "tickSize": 13, "labels": false, "title": null}}
    }
  },
  {
    "data": {"values": [{"t": 0, "d": 30}]},
    "mark": {"type": "point", "opacity": 0},
    "encoding": {
      "x": {"field": "t", "type": "quantitative", "scale": {"domain": [0, 106.5], "nice": false, "zero": false}, "axis": null},
      "y": {"field": "d", "type": "quantitative", "scale": {"domain": [0, 60], "nice": false},
            "axis": {"orient": "right", "values": [2, 4, 6, 8, 12, 14, 16, 18, 22, 24, 26, 28, 32, 34, 36, 38, 42, 44, 46, 48, 52, 54, 56, 58], "tickSize": -13, "labels": false, "title": null}}
    }
  }
]
}
